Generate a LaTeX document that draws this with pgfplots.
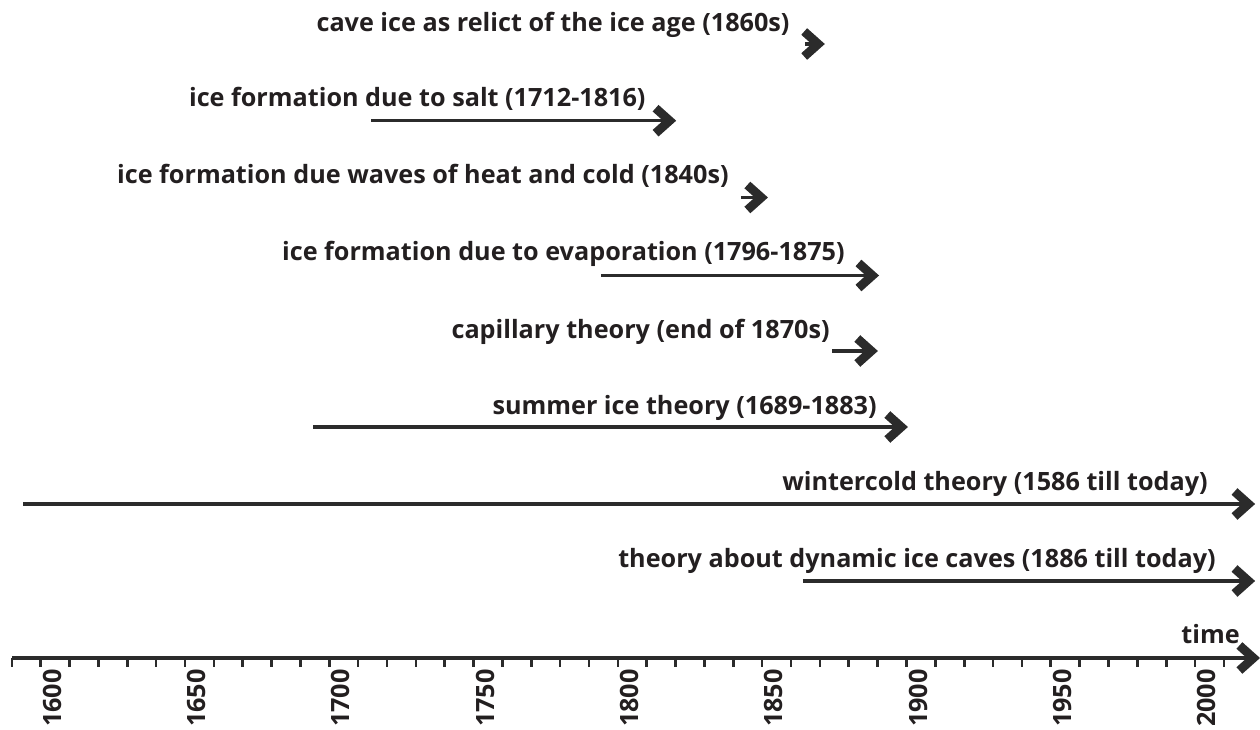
\documentclass[border=0pt]{standalone}
\usepackage{fontspec}
\setmainfont{Open Sans}
\usepackage{pgfplots}
\pgfplotsset{compat=1.18}
\usetikzlibrary{arrows.meta}
\definecolor{txt}{HTML}{231F20}
\definecolor{arr}{HTML}{2B2B2B}
\tikzset{chev/.style={-{Straight Barb[length=7pt,width=12.5pt,line width=4.4pt]}}}
\newcommand{\lab}{\fontsize{12.6}{15}\selectfont\bfseries}
\begin{document}
\begin{tikzpicture}
\begin{axis}[
  scale only axis,
  width=624.1pt, height=329pt,
  xmin=1590, xmax=2022.5, ymin=72, ymax=730,
  axis x line=bottom, axis y line=none,
  x axis line style={chev, line width=2pt, color=arr},
  clip=false,
  xtick={1600,1650,...,2000},
  minor xtick={1590,1600,...,2010},
  tick align=outside,
  major tick length=4.5pt, minor tick length=4.5pt,
  every tick/.style={line width=1.3pt, color=arr},
  xticklabel style={font=\lab, color=txt, rotate=90, anchor=north east, inner sep=1pt},
  /pgf/number format/assume math mode=true,
  /pgf/number format/1000 sep={},
]
\addplot[line width=1.6pt, color=arr, chev] coordinates {(1864.8,686) (1871.7,686)};
\addplot[line width=1.6pt, color=arr, chev] coordinates {(1714.5,609.3) (1820.2,609.3)};
\addplot[line width=1.6pt, color=arr, chev] coordinates {(1842.6,532.5) (1852.0,532.5)};
\addplot[line width=1.6pt, color=arr, chev] coordinates {(1794.1,454.5) (1890.5,454.5)};
\addplot[line width=1.6pt, color=arr, chev] coordinates {(1874.2,379) (1890.1,379)};
\addplot[line width=1.6pt, color=arr, chev] coordinates {(1694.4,303) (1900.5,303)};
\addplot[line width=1.6pt, color=arr, chev] coordinates {(1593.9,226) (2020.8,226)};
\addplot[line width=1.6pt, color=arr, chev] coordinates {(1864.1,149) (2020.8,149)};
\begin{scope}[every node/.style={anchor=base east, inner sep=0pt, font=\lab, text=txt}]
\node at (axis cs:1859.6,698.5) {cave ice as relict of the ice age (1860s)};
\node at (axis cs:1809.7,623) {ice formation due to salt (1712-1816)};
\node at (axis cs:1838.5,546.5) {ice formation due waves of heat and cold (1840s)};
\node at (axis cs:1878.7,469) {ice formation due to evaporation (1796-1875)};
\node at (axis cs:1873.5,391.5) {capillary theory (end of 1870s)};
\node at (axis cs:1889.8,315) {summer ice theory (1689-1883)};
\node at (axis cs:2004.5,239) {wintercold theory (1586 till today)};
\node at (axis cs:2007.3,162) {theory about dynamic ice caves (1886 till today)};
\node at (axis cs:2015.6,86) {time};
\end{scope}
\coordinate (BL) at (axis cs:1585.9,0);
\coordinate (TR) at (axis cs:2022.5,730);
\end{axis}
\pgfresetboundingbox
\path[use as bounding box] (BL) rectangle (TR);
\end{tikzpicture}
\end{document}
